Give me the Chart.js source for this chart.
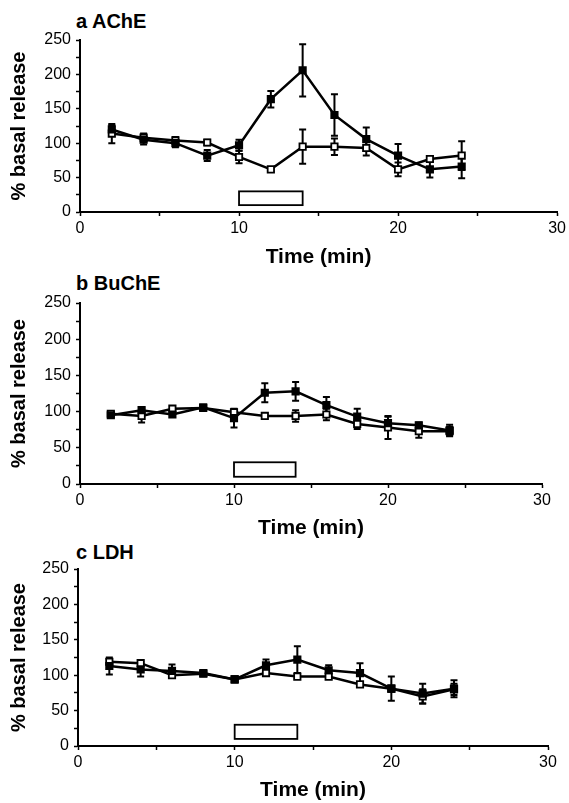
<!DOCTYPE html>
<html>
<head>
<meta charset="utf-8">
<script src="https://cdn.jsdelivr.net/npm/chart.js@4.4.1/dist/chart.umd.min.js"></script>
<style>
  html, body { margin: 0; padding: 0; background: #fff; }
  body { width: 569px; height: 803px; position: relative; overflow: hidden;
         font-family: "Liberation Sans", Arial, Helvetica, sans-serif; }
  canvas { position: absolute; left: 0; }
  .ptitle { position: absolute; left: 76px; font-size: 20px; line-height: 20px;
            font-weight: bold; color: #000; white-space: nowrap; }
</style>
</head>
<body>
<div class="ptitle" style="top:11px">a AChE</div>
<div class="ptitle" style="top:273px">b BuChE</div>
<div class="ptitle" style="top:542px">c LDH</div>
<canvas id="chartA" width="569" height="270" style="top:0px"></canvas>
<canvas id="chartB" width="569" height="271" style="top:270px"></canvas>
<canvas id="chartC" width="569" height="268" style="top:535px"></canvas>
<script>
// sample times (min)
const times = [2, 4, 6, 8, 10, 12, 14, 16, 18, 20, 22, 24];

// tick labels
const xLabels = [0, 10, 20, 30];
const yLabels = [0, 50, 100, 150, 200, 250];

// stimulus period shown as open box
const boxX = [10, 14];
const boxY = [10, 30];

// a AChE
const acheSolid    = [120, 105, 100, 82, 97, 164, 206, 141, 106, 82, 62, 66];
const acheSolidErr = [6, 7, 6, 8, 8, 12, 38, 30, 17, 17, 12, 17];
const acheOpen     = [114, 108, 104, 101, 80, 62, 95, 95, 93, 62, 77, 82];
const acheOpenErr  = [14, 6, 5, 4, 9, 3, 25, 12, 11, 10, 4, 21];

// b BuChE
const bucheSolid    = [95, 102, 96, 106, 91, 126, 128, 109, 93, 84, 81, 74];
const bucheSolidErr = [4, 3, 3, 3, 13, 13, 13, 11, 11, 9, 4, 8];
const bucheOpen     = [97, 94, 104, 105, 99, 94, 94, 96, 83, 78, 73, 73];
const bucheOpenErr  = [3, 9, 3, 3, 4, 3, 8, 8, 7, 16, 9, 6];

// c LDH
const ldhSolid    = [113, 108, 106, 103, 94, 114, 122, 107, 103, 81, 74, 81];
const ldhSolidErr = [12, 10, 9, 3, 3, 8, 19, 7, 14, 17, 14, 12];
const ldhOpen     = [119, 117, 100, 102, 94, 103, 98, 98, 87, 81, 70, 80];
const ldhOpenErr  = [4, 3, 4, 3, 4, 3, 3, 3, 3, 4, 10, 8];

const FONT = '"Liberation Sans", Arial, Helvetica, sans-serif';

// error bars + stimulus box, drawn through the scales
const extras = {
  id: 'extras',
  beforeDatasetsDraw(chart) {
    const {ctx, scales: {x, y}} = chart;
    ctx.save();
    ctx.strokeStyle = '#000';
    ctx.fillStyle = '#fff';
    ctx.lineWidth = 1.8;
    const bx0 = x.getPixelForValue(boxX[0]), bx1 = x.getPixelForValue(boxX[1]);
    const by0 = y.getPixelForValue(boxY[0]), by1 = y.getPixelForValue(boxY[1]);
    ctx.fillRect(bx0, by1, bx1 - bx0, by0 - by1);
    ctx.strokeRect(bx0, by1, bx1 - bx0, by0 - by1);

    ctx.lineWidth = 2;
    chart.data.datasets.forEach(ds => {
      ds.data.forEach((p, i) => {
        const e = ds.err[i];
        const px = x.getPixelForValue(p.x);
        const top = y.getPixelForValue(p.y + e);
        const bot = y.getPixelForValue(p.y - e);
        ctx.beginPath();
        ctx.moveTo(px, top); ctx.lineTo(px, bot);
        ctx.moveTo(px - 3.5, top); ctx.lineTo(px + 3.5, top);
        ctx.moveTo(px - 3.5, bot); ctx.lineTo(px + 3.5, bot);
        ctx.stroke();
      });
    });
    ctx.restore();
  }
};

function series(vals, errs, open) {
  return {
    data: times.map((t, i) => ({x: t, y: vals[i]})),
    err: errs,
    borderColor: '#000',
    backgroundColor: open ? '#fff' : '#000',
    borderWidth: 2.5,
    pointStyle: 'rect',
    pointRadius: 4.5,
    pointBorderWidth: 1.8,
    pointBorderColor: '#000',
    pointBackgroundColor: open ? '#fff' : '#000',
    tension: 0,
    fill: false
  };
}

function makePanel(id, lay, solid, solidErr, open, openErr) {
  const axisOpts = {
    border: {display: true, color: '#000', width: 2},
    grid: {display: true, drawOnChartArea: false, drawTicks: true,
           tickLength: 4, tickColor: '#000', tickWidth: 1.5}
  };
  new Chart(document.getElementById(id), {
    type: 'line',
    data: {
      datasets: [series(solid, solidErr, false), series(open, openErr, true)]
    },
    options: {
      responsive: false,
      animation: false,
      devicePixelRatio: 1,
      layout: {padding: {top: lay.padTop, right: lay.padRight, left: 0, bottom: 0}},
      plugins: {legend: {display: false}, tooltip: {enabled: false}},
      scales: {
        x: {
          ...axisOpts,
          type: 'linear', min: 0, max: 30,
          afterFit: s => { s.height = lay.xHeight; },
          ticks: {
            stepSize: 5, autoSkip: false, maxRotation: 0, padding: 3,
            color: '#000', font: {family: FONT, size: 16},
            callback: v => xLabels.includes(v) ? String(v) : ''
          },
          title: {display: true, text: 'Time (min)', color: '#000',
                  font: {family: FONT, size: 21, weight: 'bold'}, padding: 0}
        },
        y: {
          ...axisOpts,
          min: 0, max: 250,
          afterFit: s => { s.width = lay.yWidth; },
          ticks: {
            stepSize: 25, autoSkip: false, padding: 5,
            color: '#000', font: {family: FONT, size: 16},
            callback: v => yLabels.includes(v) ? String(v) : ''
          },
          title: {display: true, text: '% basal release', color: '#000',
                  font: {family: FONT, size: 20, weight: 'bold'},
                  padding: {top: 7, bottom: 0}}
        }
      }
    },
    plugins: [extras]
  });
}

makePanel('chartA', {padTop: 40, padRight: 11, xHeight: 58, yWidth: 80},
          acheSolid, acheSolidErr, acheOpen, acheOpenErr);
makePanel('chartB', {padTop: 33, padRight: 27, xHeight: 57, yWidth: 80},
          bucheSolid, bucheSolidErr, bucheOpen, bucheOpenErr);
makePanel('chartC', {padTop: 34, padRight: 21, xHeight: 57, yWidth: 78},
          ldhSolid, ldhSolidErr, ldhOpen, ldhOpenErr);
</script>
</body>
</html>
